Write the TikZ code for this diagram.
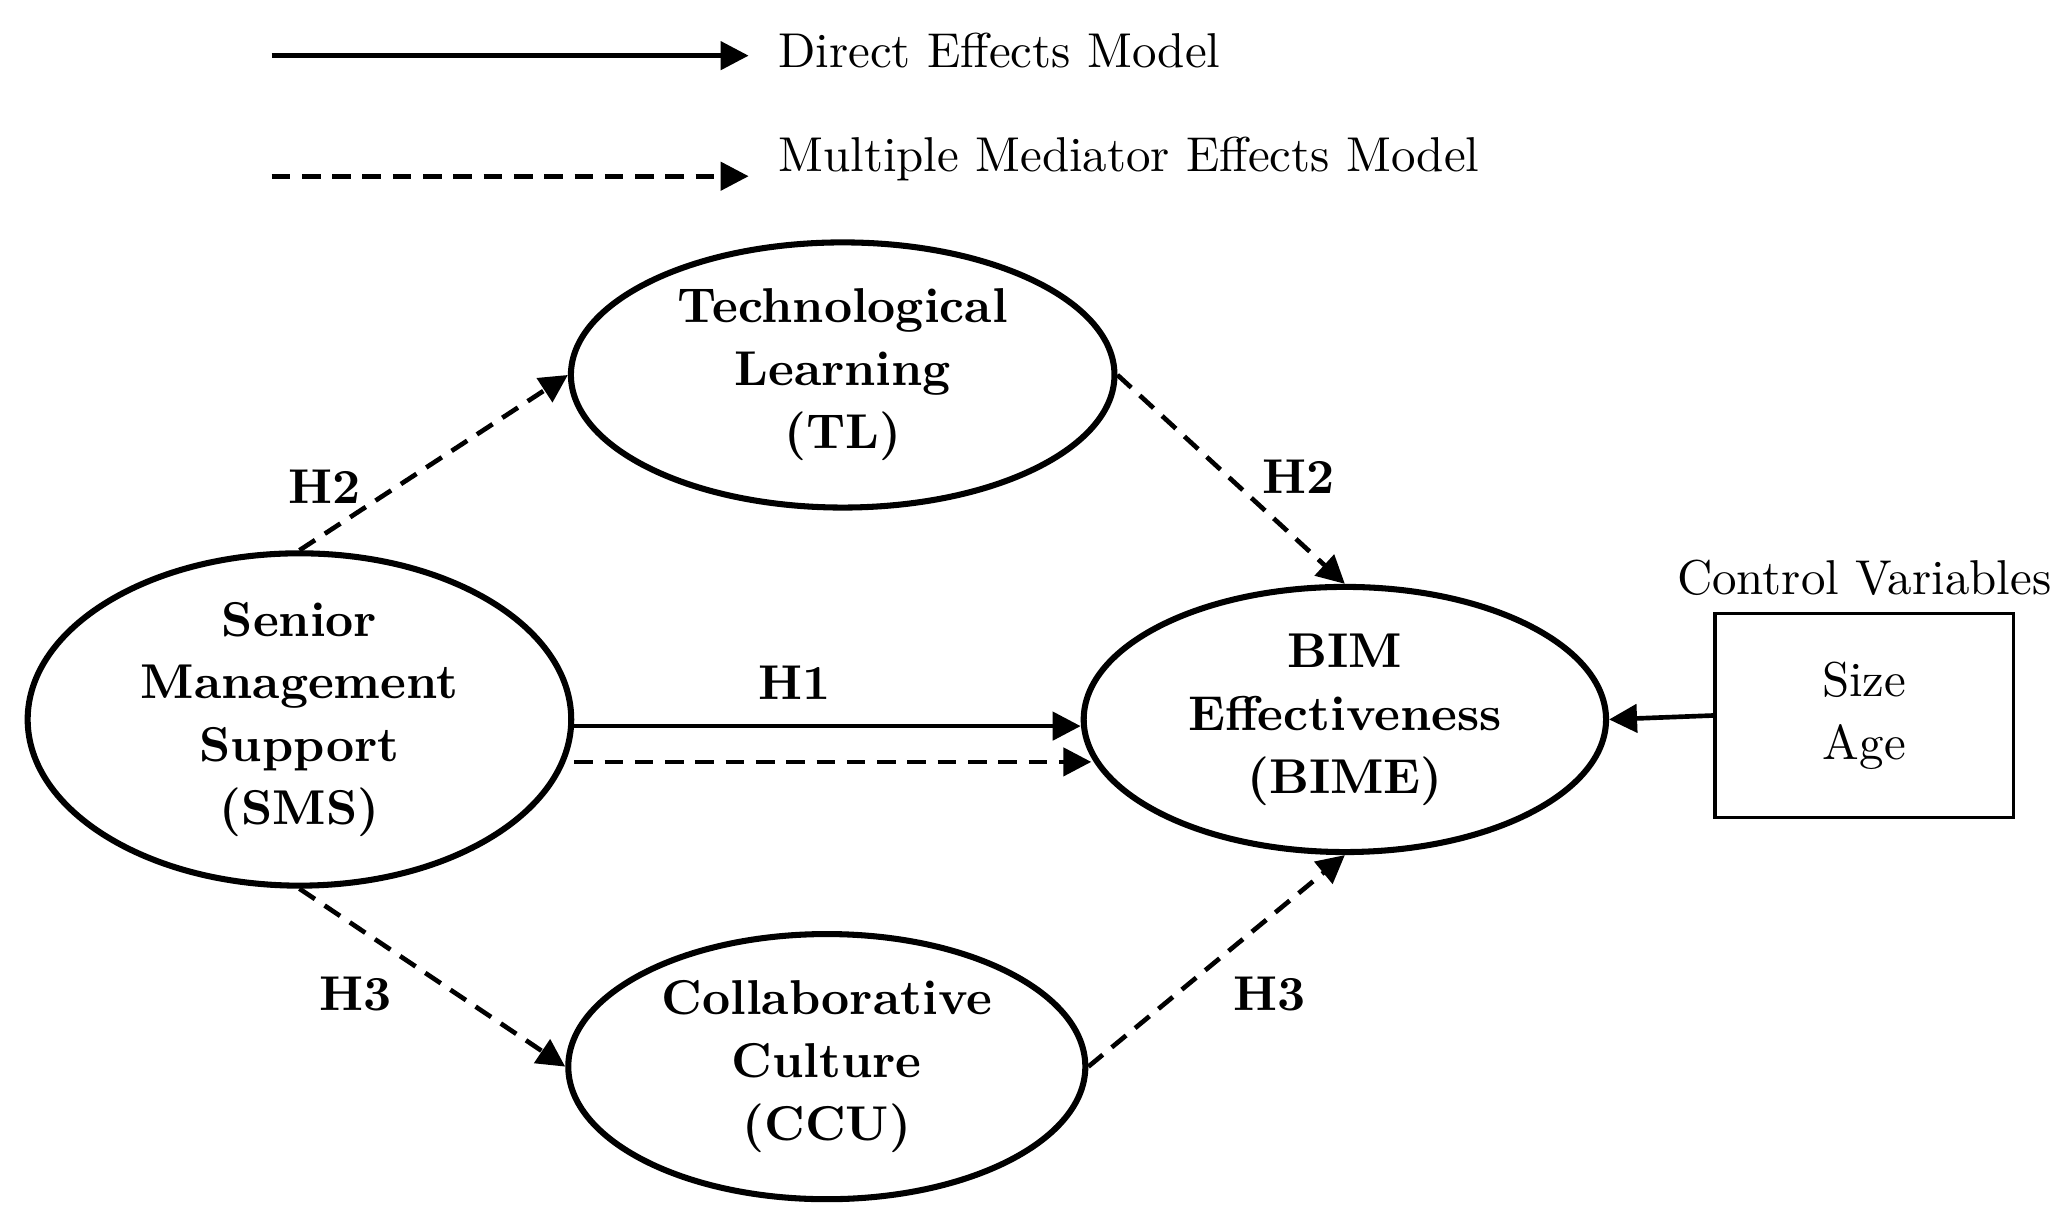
\documentclass[tikz,border=0pt]{standalone}
\usetikzlibrary{shapes.geometric,arrows.meta}
\begin{document}
\begin{tikzpicture}[x=0.01cm,y=-0.01cm,
  ell/.style={ellipse,draw,line width=1.3pt,align=center,font=\fontsize{10.5}{13.5}\selectfont\bfseries,inner sep=0pt},
  con/.style={line width=1pt,-{Triangle[length=6pt,width=6pt]}},
  dsh/.style={con,dash pattern=on 4pt off 2.5pt},
  lab/.style={font=\fontsize{10.5}{13}\selectfont\bfseries},
  txt/.style={font=\fontsize{10.5}{13}\selectfont,anchor=west}]
\useasboundingbox (0,0) rectangle (1560,918);
\node[ell,minimum width=4.10cm,minimum height=2.0cm] (tl) at (636,283) {Technological\\Learning\\(TL)};
\node[ell,minimum width=4.10cm,minimum height=2.0cm] (sms) at (226,543) {Senior\\Management\\Support\\(SMS)};
\node[ell,minimum width=3.94cm,minimum height=2.0cm] (bime) at (1015,543) {BIM\\Effectiveness\\(BIME)};
\node[ell,minimum width=3.90cm,minimum height=2.0cm] (ccu) at (624,805) {Collaborative\\Culture\\(CCU)};
\node[draw,line width=0.8pt,minimum width=2.25cm,minimum height=1.54cm,align=center,font=\fontsize{10.5}{13.5}\selectfont] (box) at (1407,540) {Size\\Age};
\node[font=\fontsize{10.5}{13}\selectfont,anchor=south] (cv) at (box.north) {Control Variables};
\coordinate (l1a) at (205,42); \coordinate (l1b) at (565,42);
\coordinate (l2a) at (205,133); \coordinate (l2b) at (565,133);
\draw[con] (l1a) -- (l1b);
\draw[dsh] (l2a) -- (l2b);
\node[txt] (t1) at (575,38) {Direct Effects Model};
\node[txt] (t2) at (575,120) {Multiple Mediator Effects Model};
\draw[dsh] (sms.north) -- (tl.west);
\draw[dsh] (tl.east) -- (bime.north);
\draw[dsh] (sms.south) -- (ccu.west);
\draw[dsh] (ccu.east) -- (bime.south);
\draw[con] ([yshift=-0.05cm]sms.east) -- ([yshift=-0.05cm]bime.west);
\draw[dsh] ([yshift=-0.32cm]sms.east) -- ([yshift=-0.32cm,xshift=0.08cm]bime.west);
\draw[con] (box.west) -- (bime.east);
\node[lab] (h2a) at (245,367) {H2};
\node[lab] (h2b) at (980,360) {H2};
\node[lab] (h1) at (600,515) {H1};
\node[lab] (h3a) at (268,750) {H3};
\node[lab] (h3b) at (958,750) {H3};
\end{tikzpicture}
\end{document}
